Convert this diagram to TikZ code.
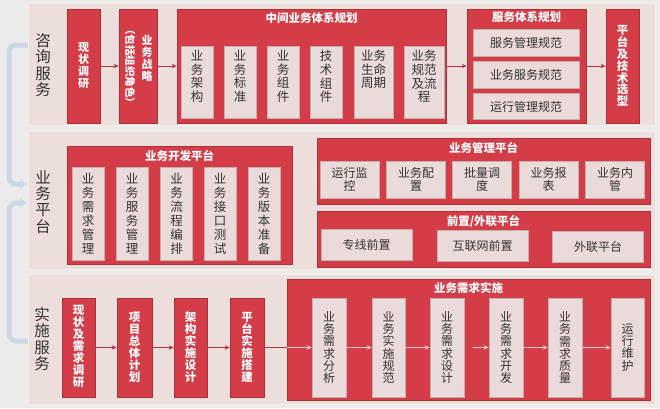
\documentclass[tikz,border=0pt]{standalone}
\usepackage{fontspec}
\setmainfont{Noto Sans CJK SC}
\usetikzlibrary{arrows.meta}
\definecolor{bg}{HTML}{EBEBEC}
\definecolor{bandc}{HTML}{EBDEDB}
\definecolor{bandb}{HTML}{F6EEEE}
\definecolor{redc}{HTML}{D43C48}
\definecolor{redb}{HTML}{A9313A}
\definecolor{inc}{HTML}{EBDADA}
\definecolor{inb}{HTML}{C4AFAF}
\definecolor{txt}{HTML}{333333}
\definecolor{connc}{HTML}{CBD7E3}
\definecolor{arr}{HTML}{B3323B}
\definecolor{arrl}{HTML}{F2C9CD}
\tikzset{
  sz/.style 2 args={minimum width=#1, minimum height=#2},
  band/.style={draw=bandb, fill=bandc, line width=0.8pt, inner sep=0pt},
  redbox/.style={draw=redb, fill=redc, line width=0.8pt, inner sep=0pt},
  redtxt/.style={text=white, align=center, inner sep=0pt, font=\bfseries\fontsize{11}{12}\selectfont},
  inbox/.style={draw=inb, fill=inc, line width=0.5pt, inner sep=0pt, text=txt, align=center},
  intxt/.style={text=txt, align=center, inner sep=0pt},
  ttl/.style={text=white, inner sep=0pt, font=\bfseries\fontsize{11.5}{13}\selectfont},
  lbl/.style={text=txt, align=center, inner sep=0pt, font=\fontsize{15.5}{16.3}\selectfont},
  flow/.style={draw=arr, line width=0.8pt, -{Stealth[length=5pt,width=4.5pt]}},
  flowl/.style={draw=arrl, line width=0.8pt, -{Stealth[length=5pt,width=4.5pt]}},
  flowp/.style={draw=arr, line width=0.8pt},
  conn/.style={draw=connc, line width=5pt, rounded corners=7pt, -{Stealth[length=6pt,width=10pt]}},
  fA/.style={font=\fontsize{12.5}{13.6}\selectfont},
  fB/.style={font=\fontsize{12.5}{14}\selectfont},
  fC/.style={font=\fontsize{12}{13}\selectfont},
  fD/.style={font=\fontsize{12}{12.2}\selectfont},
  rt/.style={redtxt, font=\bfseries\fontsize{11.5}{12}\selectfont},
}
\begin{document}
\begin{tikzpicture}[x=1pt,y=-1pt]
\useasboundingbox (0,0) rectangle (660,408);
\fill[bg] (0,0) rectangle (660,408);

% bands
\node[band, sz={627}{122}] (band1) at (341.5,64) {};
\node[band, sz={627}{138}] (band2) at (341.5,200) {};
\node[band, sz={627}{130}] (band3) at (341.5,339) {};

\node[lbl] (l1) at (43,65) {咨\\询\\服\\务};
\node[lbl] (l2) at (43,202) {业\\务\\平\\台};
\node[lbl] (l3) at (42,339) {实\\施\\服\\务};

% left connectors
\coordinate (c1s) at (28,45);
\coordinate (c1e) at (26,184);
\coordinate (c2s) at (28,341);
\coordinate (c2e) at (26,203);
\draw[conn] (c1s) -- (9,45) -- (9,184) -- (c1e);
\draw[conn] (c2s) -- (9,341) -- (9,203) -- (c2e);

% ---------- band 1 ----------
\node[redbox, sz={33}{114}] (xzdy) at (83.5,66) {};
\node[redtxt] (xzdyt) at (83.5,66) {现\\状\\调\\研};
\node[redbox, sz={38}{114}] (ywzl) at (138,66) {};
\node[redtxt] (ywzlt) at (147,58) {业\\务\\战\\略};
\node[redtxt, rotate=-90, font=\bfseries\fontsize{10.5}{12}\selectfont] (ywzlp) at (130,66) {（包括组织角色）};

\node[redbox, sz={269}{114}] (zjyw) at (311.5,66) {};
\node[ttl] (zjywt) at (311.5,18) {中间业务体系规划};
\node[inbox, sz={32}{72}] (z1) at (197,82) {};
\node[intxt, fA] (z1t) at (197,76.5) {业\\务\\架\\构};
\node[inbox, sz={32}{72}] (z2) at (240,82) {};
\node[intxt, fA] (z2t) at (240,76.5) {业\\务\\标\\准};
\node[inbox, sz={32}{72}] (z3) at (283,82) {};
\node[intxt, fA] (z3t) at (283,76.5) {业\\务\\组\\件};
\node[inbox, sz={32}{72}] (z4) at (326,82) {};
\node[intxt, fA] (z4t) at (326,76.5) {技\\术\\组\\件};
\node[inbox, sz={39}{72}] (z5) at (373.5,82) {};
\node[intxt, fA] (z5t) at (373.5,69.5) {业务\\生命\\周期};
\node[inbox, sz={40}{72}] (z6) at (424,82) {};
\node[intxt, fA] (z6t) at (424,76.5) {业务\\规范\\及流\\程};

\node[redbox, sz={119}{114}] (fwtx) at (526.5,66) {};
\node[ttl] (fwtxt) at (526.5,17) {服务体系规划};
\node[inbox, fC, sz={106}{27}] (f1) at (526,43) {服务管理规范};
\node[inbox, fC, sz={106}{27}] (f2) at (526,75) {业务服务规范};
\node[inbox, fC, sz={106}{26}] (f3) at (526,106.5) {运行管理规范};

\node[redbox, sz={33}{114}] (ptjs) at (622.5,66) {};
\node[redtxt, font=\bfseries\fontsize{11.5}{11.8}\selectfont] (ptjst) at (622.5,66) {平\\台\\及\\技\\术\\选\\型};

\draw[flow] (xzdy.east) -- (ywzl.west);
\draw[flow] (ywzl.east) -- (zjyw.west);
\draw[flow] (zjyw.east) -- (fwtx.west);
\draw[flow] (fwtx.east) -- (ptjs.west);

% ---------- band 2 ----------
\node[redbox, sz={225}{118}] (ywkf) at (179.5,205) {};
\node[ttl] (ywkft) at (179.5,156) {业务开发平台};
\node[inbox, fB, sz={32}{93}] (k1) at (88,213.5) {业\\务\\需\\求\\管\\理};
\node[inbox, fB, sz={32}{93}] (k2) at (132,213.5) {业\\务\\服\\务\\管\\理};
\node[inbox, fB, sz={32}{93}] (k3) at (176.5,213.5) {业\\务\\流\\程\\编\\排};
\node[inbox, fB, sz={32}{93}] (k4) at (220,213.5) {业\\务\\接\\口\\测\\试};
\node[inbox, fB, sz={32}{93}] (k5) at (264,213.5) {业\\务\\版\\本\\准\\备};

\node[redbox, sz={333}{66}] (ywgl) at (483.5,171) {};
\node[ttl] (ywglt) at (483.5,148) {业务管理平台};
\node[inbox, fC, sz={59}{37}] (g1) at (349.5,179.5) {运行监\\控};
\node[inbox, fC, sz={59}{37}] (g2) at (416,179.5) {业务配\\置};
\node[inbox, fC, sz={59}{37}] (g3) at (482,179.5) {批量调\\度};
\node[inbox, fC, sz={59}{37}] (g4) at (548.5,179.5) {业务报\\表};
\node[inbox, fC, sz={59}{37}] (g5) at (615,179.5) {业务内\\管};

\node[redbox, sz={333}{56}] (qzwl) at (483.5,239) {};
\node[ttl] (qzwlt) at (483.5,221) {前置/外联平台};
\node[inbox, fC, sz={91}{31}] (q1) at (366.5,245) {专线前置};
\node[inbox, fC, sz={91}{31}] (q2) at (482.5,246) {互联网前置};
\node[inbox, fC, sz={91}{31}] (q3) at (598,246.5) {外联平台};

% ---------- band 3 ----------
\node[redbox, sz={33}{99}] (s1) at (78.5,347.5) {};
\node[rt] (s1t) at (78.5,346.5) {现\\状\\及\\需\\求\\调\\研};
\node[redbox, sz={35}{99}] (s2) at (134.5,347.5) {};
\node[rt] (s2t) at (134.5,347.5) {项\\目\\总\\体\\计\\划};
\node[redbox, sz={33}{99}] (s3) at (190.5,347.5) {};
\node[rt] (s3t) at (190.5,347) {架\\构\\实\\施\\设\\计};
\node[redbox, sz={34}{99}] (s4) at (247,347.5) {};
\node[rt] (s4t) at (247,347.5) {平\\台\\实\\施\\搭\\建};

\node[redbox, sz={363}{121}] (ywss) at (468.5,339.5) {};
\node[ttl] (ywsst) at (468.5,288) {业务需求实施};
\node[inbox, fD, sz={34}{99}] (i1) at (329,347.5) {业\\务\\需\\求\\分\\析};
\node[inbox, fD, sz={33}{99}] (i2) at (388.5,347.5) {业\\务\\实\\施\\规\\范};
\node[inbox, fD, sz={34}{99}] (i3) at (447,347.5) {业\\务\\需\\求\\设\\计};
\node[inbox, fD, sz={34}{99}] (i4) at (506,347.5) {业\\务\\需\\求\\开\\发};
\node[inbox, fD, sz={34}{99}] (i5) at (565,347.5) {业\\务\\需\\求\\质\\量};
\node[inbox, fD, sz={33}{99}] (i6) at (627.5,347.5) {运\\行\\维\\护};

\draw[flow] (s1.east) -- (s2.west);
\draw[flow] (s2.east) -- (s3.west);
\draw[flow] (s3.east) -- (s4.west);
\coordinate (bx) at (ywss.west |- s4.east);
\draw[flowp] (s4.east) -- (bx);
\draw[flowl] (bx) -- (i1.west);
\draw[flowl] (i1.east) -- (i2.west);
\draw[flowl] (i2.east) -- (i3.west);
\coordinate (gap) at (473,347.5);
\draw[flowl] (gap) -- (i4.west);
\draw[flowl] (i4.east) -- (i5.west);
\draw[flowl] (i5.east) -- (i6.west);
\end{tikzpicture}
\end{document}
